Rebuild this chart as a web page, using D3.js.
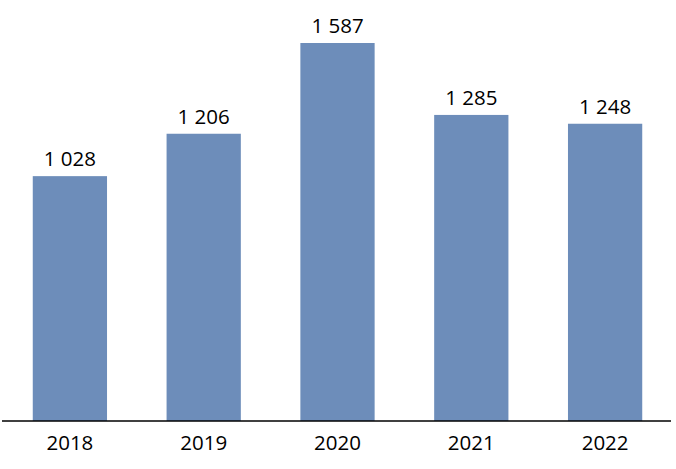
<!DOCTYPE html>
<html>
<head>
<meta charset="utf-8">
<style>
  body { margin: 0; background: #fff; }
  .bar { fill: #6d8dba; }
  text { font-family: "Open Sans", sans-serif; font-size: 20.5px; fill: #000; }
</style>
</head>
<body>
<script src="https://cdn.jsdelivr.net/npm/d3@7"></script>
<script>
// chart values
var years = ["2018", "2019", "2020", "2021", "2022"];
var values = [1028, 1206, 1587, 1285, 1248];
var labels = ["1 028", "1 206", "1 587", "1 285", "1 248"];

var width = 676, height = 469;
var baseY = 421;

var svg = d3.select("body").append("svg")
    .attr("width", width)
    .attr("height", height);

// scales
var xScale = d3.scaleBand()
    .domain(years)
    .range([4, 671])
    .paddingInner(0.445)
    .paddingOuter(0.215);

var yScale = d3.scaleLinear()
    .domain([0, 1587])
    .range([baseY, 43]);

var data = years.map(function(y, i) { return { year: y, value: values[i], label: labels[i] }; });

// bars
svg.selectAll(".bar")
    .data(data)
    .enter().append("rect")
    .attr("class", "bar")
    .attr("x", function(d) { return xScale(d.year); })
    .attr("width", xScale.bandwidth())
    .attr("y", function(d) { return yScale(d.value); })
    .attr("height", function(d) { return baseY - yScale(d.value); });

// value labels
svg.selectAll(".val")
    .data(data)
    .enter().append("text")
    .attr("class", "val")
    .attr("text-anchor", "middle")
    .attr("x", function(d) { return xScale(d.year) + xScale.bandwidth() / 2; })
    .attr("y", function(d) { return yScale(d.value) - 10; })
    .text(function(d) { return d.label; });

// x axis
var axis = svg.append("g")
    .attr("transform", "translate(0," + baseY + ")")
    .call(d3.axisBottom(xScale).tickSize(0).tickPadding(14));
axis.select(".domain").attr("stroke", "#000").attr("stroke-width", 1.5)
    .attr("d", "M2,0H671");
axis.selectAll("text")
    .style("font-family", "'Open Sans', sans-serif")
    .style("font-size", "20.5px")
    .attr("fill", "#000")
    .attr("dy", "0.75em");
</script>
</body>
</html>
